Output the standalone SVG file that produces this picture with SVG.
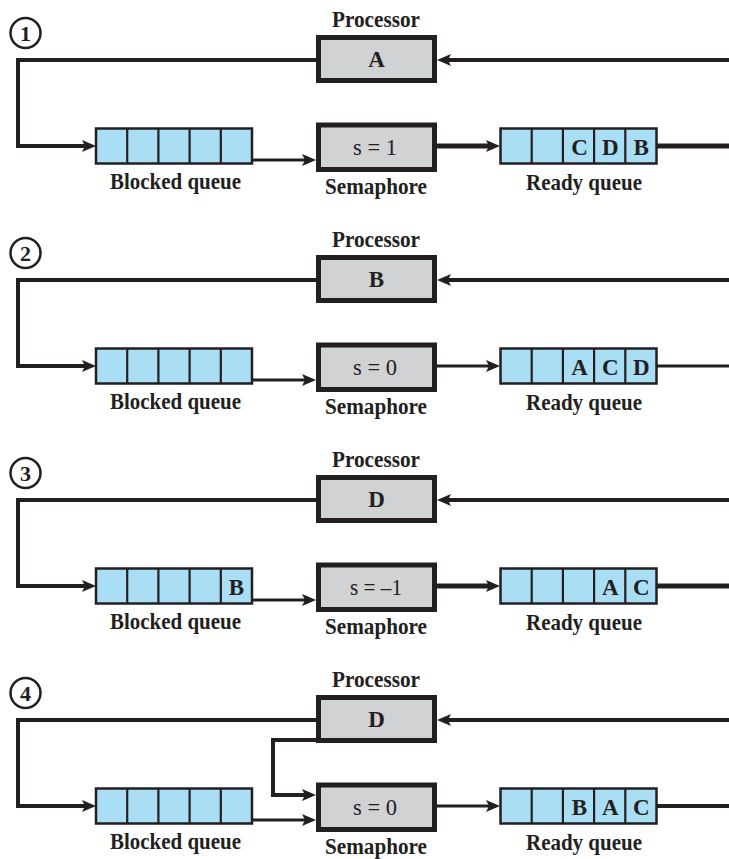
<svg xmlns="http://www.w3.org/2000/svg" width="729" height="859" viewBox="0 0 729 859">
<style>
text{font-family:"Liberation Serif","DejaVu Serif",serif;fill:#231f20}
.lbl{font-size:24px;font-weight:bold;text-anchor:middle}
.let{font-size:23px;font-weight:bold;text-anchor:middle}
.sem{font-size:23px;font-weight:normal;text-anchor:middle}
.num{font-size:22px;font-weight:bold;text-anchor:middle}
.box{fill:#d1d2d4;stroke:#231f20;stroke-width:5}
.q{fill:#a9def5;stroke:#231f20;stroke-width:2.5}
.div{stroke:#231f20;stroke-width:2.2}
.c{fill:none;stroke:#231f20;stroke-linejoin:miter}
.w5{stroke-width:5}
.w4{stroke-width:4}
.w3{stroke-width:3}
.circ{fill:#fff;stroke:#231f20;stroke-width:2.5}
</style>
<defs>
<marker id="ah" markerUnits="userSpaceOnUse" markerWidth="16" markerHeight="14" refX="6" refY="7" orient="auto">
<path d="M0,1 L14,7 L0,13 L3,7 z" fill="#231f20"/>
</marker>
<g id="bq">
<rect class="q" x="96" y="128.5" width="156" height="35"/>
<line class="div" x1="127.2" y1="128.5" x2="127.2" y2="163.5"/>
<line class="div" x1="158.4" y1="128.5" x2="158.4" y2="163.5"/>
<line class="div" x1="189.6" y1="128.5" x2="189.6" y2="163.5"/>
<line class="div" x1="220.8" y1="128.5" x2="220.8" y2="163.5"/>
</g>
<g id="rq">
<rect class="q" x="500.5" y="128.5" width="156" height="35"/>
<line class="div" x1="531.7" y1="128.5" x2="531.7" y2="163.5"/>
<line class="div" x1="562.9" y1="128.5" x2="562.9" y2="163.5"/>
<line class="div" x1="594.1" y1="128.5" x2="594.1" y2="163.5"/>
<line class="div" x1="625.3" y1="128.5" x2="625.3" y2="163.5"/>
</g>
</defs>

<!-- Panel 1 -->
<g id="panel1">
<g id="p1-connectors">
<path class="c w4" d="M318,60 H18 V146 H88" marker-end="url(#ah)"/>
<path class="c w4" d="M729,60 H445" marker-end="url(#ah)"/>
<path class="c w3" d="M252,160 H308" marker-end="url(#ah)"/>
<path class="c w5" d="M437,146 H492" marker-end="url(#ah)"/>
<path class="c w5" d="M656,146 H729"/>
</g>
<g id="p1-step"><circle class="circ" cx="25.5" cy="33" r="15"/><text class="num" x="25.5" y="40.5">1</text></g>
<g id="p1-processor"><text class="lbl" x="376" y="27" textLength="88" lengthAdjust="spacingAndGlyphs">Processor</text><rect class="box" x="318.5" y="37.5" width="116" height="43"/><text class="let" x="376.5" y="67">A</text></g>
<g id="p1-semaphore"><rect class="box" x="318.5" y="125" width="116" height="44.5"/><text class="sem" x="375" y="154.5" textLength="44" lengthAdjust="spacingAndGlyphs">s = 1</text><text class="lbl" x="376" y="194" textLength="102" lengthAdjust="spacingAndGlyphs">Semaphore</text></g>
<g id="p1-blocked"><use href="#bq"/><text class="lbl" x="175.5" y="189" textLength="131" lengthAdjust="spacingAndGlyphs">Blocked queue</text></g>
<g id="p1-ready"><use href="#rq"/><text class="let" x="579.5" y="155">C</text><text class="let" x="610.2" y="155">D</text><text class="let" x="641.2" y="155">B</text><text class="lbl" x="584" y="190" textLength="116" lengthAdjust="spacingAndGlyphs">Ready queue</text></g>
</g>

<!-- Panel 2 -->
<g id="panel2" transform="translate(0,220)">
<g id="p2-connectors">
<path class="c w4" d="M318,60 H18 V146 H88" marker-end="url(#ah)"/>
<path class="c w4" d="M729,60 H445" marker-end="url(#ah)"/>
<path class="c w3" d="M252,160 H308" marker-end="url(#ah)"/>
<path class="c w3" d="M437,146 H492" marker-end="url(#ah)"/>
<path class="c w3" d="M656,146 H729"/>
</g>
<g id="p2-step"><circle class="circ" cx="25.5" cy="33" r="15"/><text class="num" x="25.5" y="40.5">2</text></g>
<g id="p2-processor"><text class="lbl" x="376" y="27" textLength="88" lengthAdjust="spacingAndGlyphs">Processor</text><rect class="box" x="318.5" y="37.5" width="116" height="43"/><text class="let" x="376.5" y="67">B</text></g>
<g id="p2-semaphore"><rect class="box" x="318.5" y="125" width="116" height="44.5"/><text class="sem" x="375" y="154.5" textLength="44" lengthAdjust="spacingAndGlyphs">s = 0</text><text class="lbl" x="376" y="194" textLength="102" lengthAdjust="spacingAndGlyphs">Semaphore</text></g>
<g id="p2-blocked"><use href="#bq"/><text class="lbl" x="175.5" y="189" textLength="131" lengthAdjust="spacingAndGlyphs">Blocked queue</text></g>
<g id="p2-ready"><use href="#rq"/><text class="let" x="579.5" y="155">A</text><text class="let" x="610.2" y="155">C</text><text class="let" x="641.2" y="155">D</text><text class="lbl" x="584" y="190" textLength="116" lengthAdjust="spacingAndGlyphs">Ready queue</text></g>
</g>

<!-- Panel 3 -->
<g id="panel3" transform="translate(0,440)">
<g id="p3-connectors">
<path class="c w4" d="M318,60 H18 V146 H88" marker-end="url(#ah)"/>
<path class="c w4" d="M729,60 H445" marker-end="url(#ah)"/>
<path class="c w3" d="M252,160 H308" marker-end="url(#ah)"/>
<path class="c w5" d="M437,146 H492" marker-end="url(#ah)"/>
<path class="c w5" d="M656,146 H729"/>
</g>
<g id="p3-step"><circle class="circ" cx="25.5" cy="33" r="15"/><text class="num" x="25.5" y="40.5">3</text></g>
<g id="p3-processor"><text class="lbl" x="376" y="27" textLength="88" lengthAdjust="spacingAndGlyphs">Processor</text><rect class="box" x="318.5" y="37.5" width="116" height="43"/><text class="let" x="376.5" y="67">D</text></g>
<g id="p3-semaphore"><rect class="box" x="318.5" y="125" width="116" height="44.5"/><text class="sem" x="376" y="154.5" textLength="52" lengthAdjust="spacingAndGlyphs">s = –1</text><text class="lbl" x="376" y="194" textLength="102" lengthAdjust="spacingAndGlyphs">Semaphore</text></g>
<g id="p3-blocked"><use href="#bq"/><text class="let" x="236.4" y="155">B</text><text class="lbl" x="175.5" y="189" textLength="131" lengthAdjust="spacingAndGlyphs">Blocked queue</text></g>
<g id="p3-ready"><use href="#rq"/><text class="let" x="610.2" y="155">A</text><text class="let" x="641.2" y="155">C</text><text class="lbl" x="584" y="190" textLength="116" lengthAdjust="spacingAndGlyphs">Ready queue</text></g>
</g>

<!-- Panel 4 -->
<g id="panel4" transform="translate(0,660)">
<g id="p4-connectors">
<path class="c w4" d="M318,60 H18 V146 H88" marker-end="url(#ah)"/>
<path class="c w4" d="M729,60 H445" marker-end="url(#ah)"/>
<path class="c w3" d="M252,160 H308" marker-end="url(#ah)"/>
<path class="c w4" d="M318,80 H273 V135 H308" marker-end="url(#ah)"/>
<path class="c w3" d="M437,146 H492" marker-end="url(#ah)"/>
<path class="c w4" d="M656,146 H729"/>
</g>
<g id="p4-step"><circle class="circ" cx="25.5" cy="33" r="15"/><text class="num" x="25.5" y="40.5">4</text></g>
<g id="p4-processor"><text class="lbl" x="376" y="27" textLength="88" lengthAdjust="spacingAndGlyphs">Processor</text><rect class="box" x="318.5" y="37.5" width="116" height="43"/><text class="let" x="376.5" y="67">D</text></g>
<g id="p4-semaphore"><rect class="box" x="318.5" y="125" width="116" height="44.5"/><text class="sem" x="375" y="154.5" textLength="44" lengthAdjust="spacingAndGlyphs">s = 0</text><text class="lbl" x="376" y="194" textLength="102" lengthAdjust="spacingAndGlyphs">Semaphore</text></g>
<g id="p4-blocked"><use href="#bq"/><text class="lbl" x="175.5" y="189" textLength="131" lengthAdjust="spacingAndGlyphs">Blocked queue</text></g>
<g id="p4-ready"><use href="#rq"/><text class="let" x="579.5" y="155">B</text><text class="let" x="610.2" y="155">A</text><text class="let" x="641.2" y="155">C</text><text class="lbl" x="584" y="190" textLength="116" lengthAdjust="spacingAndGlyphs">Ready queue</text></g>
</g>
</svg>
